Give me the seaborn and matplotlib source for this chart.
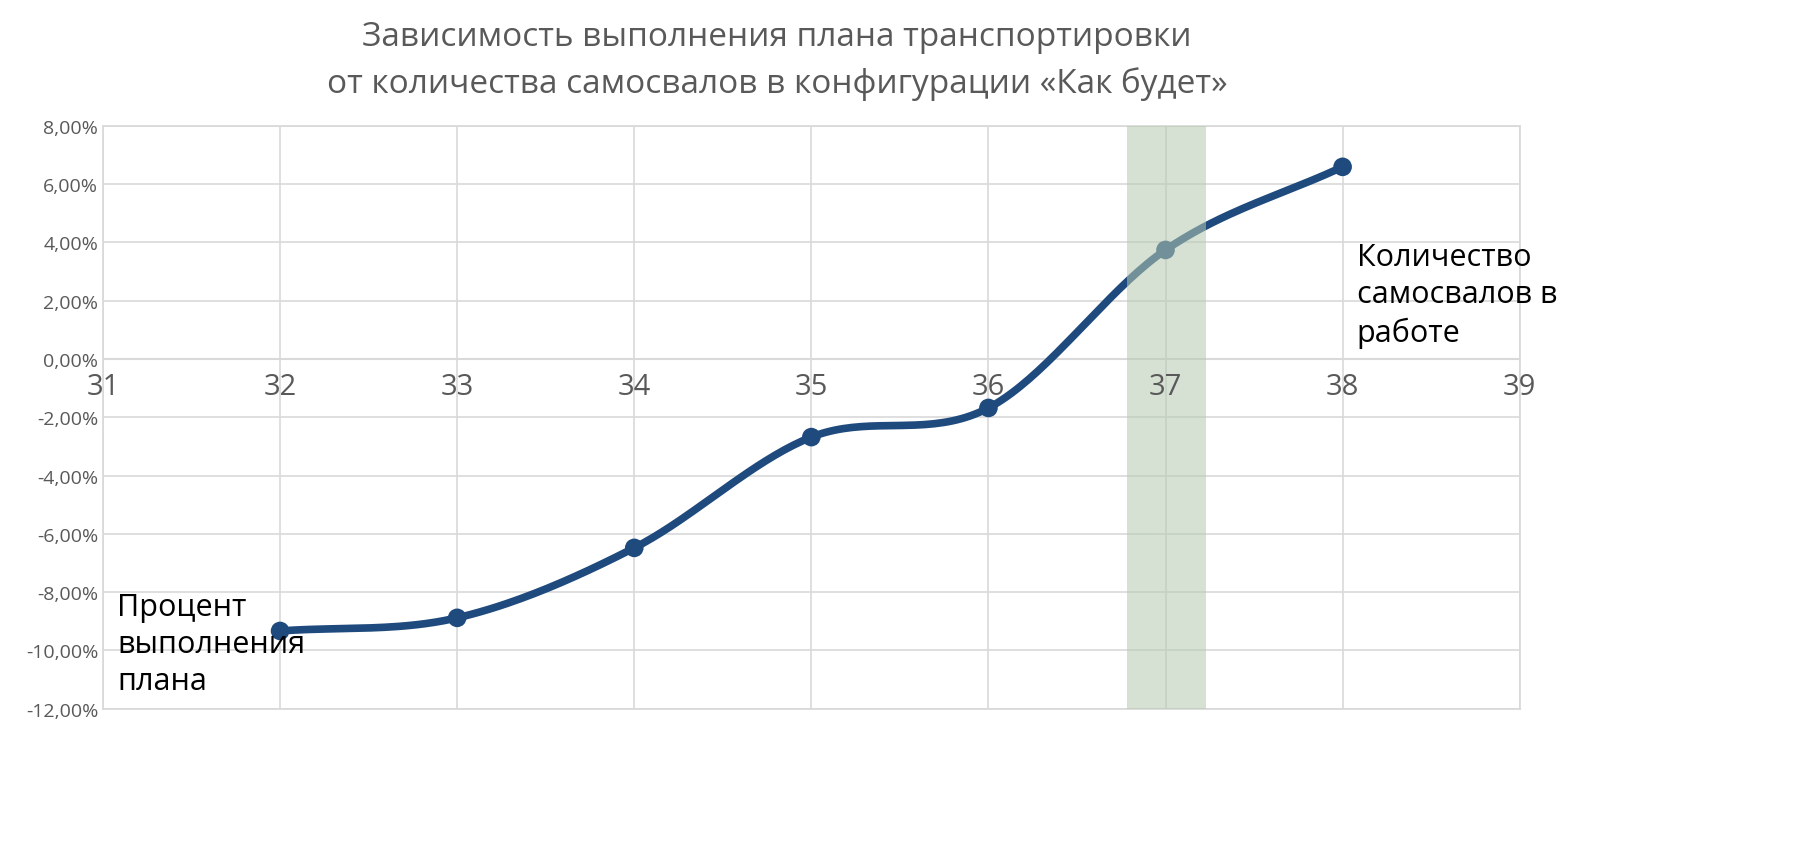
import numpy as np
import matplotlib
matplotlib.use("Agg")
import matplotlib.pyplot as plt
import seaborn as sns
from matplotlib.ticker import FuncFormatter

trucks = [32, 33, 34, 35, 36, 37, 38]
plan_pct = [-9.33, -8.88, -6.48, -2.68, -1.68, 3.74, 6.59]
x_ticks = [31, 32, 33, 34, 35, 36, 37, 38, 39]
y_ticks = [-12, -10, -8, -6, -4, -2, 0, 2, 4, 6, 8]
title = "Зависимость выполнения плана транспортировки\nот количества самосвалов в конфигурации «Как будет»"

sns.set_theme(style="whitegrid")
plt.rcParams['font.family'] = ['Open Sans', 'DejaVu Sans']

def catmull(xs, ys, n=40):
    xs = np.asarray(xs, float); ys = np.asarray(ys, float)
    P = np.column_stack([xs, ys])
    P = np.vstack([2*P[0]-P[1], P, 2*P[-1]-P[-2]])
    out = []
    for i in range(1, len(P)-2):
        p0, p1, p2, p3 = P[i-1], P[i], P[i+1], P[i+2]
        t = np.linspace(0, 1, n)[:, None]
        seg = 0.5*((2*p1) + (-p0+p2)*t + (2*p0-5*p1+4*p2-p3)*t**2 + (-p0+3*p1-3*p2+p3)*t**3)
        out.append(seg)
    out = np.vstack(out)
    return out[:, 0], out[:, 1]

fig = plt.figure(figsize=(18.07, 8.45), dpi=100)
ax = fig.add_axes([0.057, 0.16, 0.784, 0.69])
sx, sy = catmull(trucks, plan_pct)
sns.lineplot(x=sx, y=sy, ax=ax, color="#1F4A7E", linewidth=5.5, sort=False, zorder=3)
sns.scatterplot(x=trucks, y=plan_pct, ax=ax, color="#1F4A7E", s=180, zorder=4, edgecolor="none")
ax.axvspan(36.78, 37.23, color="#B5CAB0", alpha=0.55, zorder=5, lw=0)

ax.set_xlim(31, 39)
ax.set_ylim(-12, 8)
ax.set_xticks(x_ticks)
ax.set_yticks(y_ticks)
ax.yaxis.set_major_formatter(FuncFormatter(lambda v, p: f"{v:.2f}%".replace(".", ",")))
ax.tick_params(axis='y', labelsize=14, colors="#595959", length=0)
ax.set_xticklabels([])
ax.tick_params(axis='x', length=0)
for xv in x_ticks:
    ax.text(xv, -0.45, str(xv), ha='center', va='top', fontsize=21, color="#595959", zorder=6)
ax.grid(True, color="#D9D9D9", linewidth=1.2)
ax.axhline(0, color="#D9D9D9", linewidth=1.5, zorder=1)
for s in ax.spines.values():
    s.set_visible(True); s.set_color("#D9D9D9")

ax.text(31.08, -8.0, "Процент\nвыполнения\nплана", ha='left', va='top', fontsize=22, color="black", linespacing=1.3, zorder=7)
ax.text(38.08, 4.0, "Количество\nсамосвалов в\nработе", ha='left', va='top', fontsize=22, color="black", linespacing=1.3, zorder=7)
fig.text(0.43, 0.975, title, ha='center', va='top', fontsize=24, color="#595959", linespacing=1.5)
ax.set_xlabel(""); ax.set_ylabel("")
fig.savefig("out.png", dpi=100)
